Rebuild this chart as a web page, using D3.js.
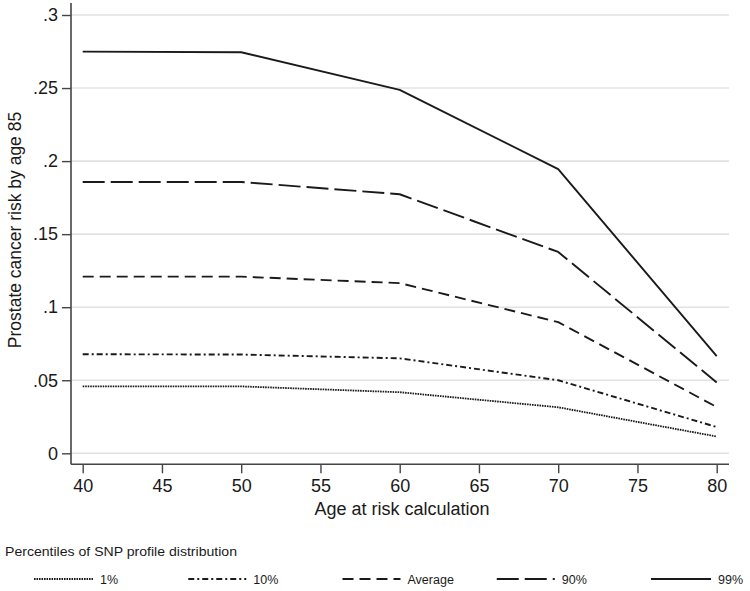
<!DOCTYPE html>
<html>
<head>
<meta charset="utf-8">
<script src="https://cdn.jsdelivr.net/npm/d3@7"></script>
<style>
  html, body { margin: 0; padding: 0; background: #fff; }
  svg { display: block; }
  text { font-family: "Liberation Sans", Arial, sans-serif; fill: #1a1a1a; }
</style>
</head>
<body>
<svg id="chart" width="750" height="591"></svg>
<script>
// ---- data ----
const ages = [40, 50, 60, 70, 80];
const p1 = [0.0458, 0.0458, 0.0418, 0.0315, 0.0115];
const p10 = [0.0678, 0.0676, 0.0650, 0.0500, 0.0180];
const pAvg = [0.1209, 0.1209, 0.1165, 0.0898, 0.0317];
const p90 = [0.1857, 0.1857, 0.1773, 0.1378, 0.0485];
const p99 = [0.2749, 0.2745, 0.2487, 0.1945, 0.0665];
const seriesNames = ["1%", "10%", "Average", "90%", "99%"];
const xTicks = [40, 45, 50, 55, 60, 65, 70, 75, 80];
const yTicks = [0, 0.05, 0.1, 0.15, 0.2, 0.25, 0.3];
const yTickLabels = ["0", ".05", ".1", ".15", ".2", ".25", ".3"];

const seriesValues = [p1, p10, pAvg, p90, p99];
const dashes = ["1.6,0.9", "6,3,2,3", "11,6", "22,6", "none"];

const svg = d3.select("#chart");
const x = d3.scaleLinear().domain([40, 80]).range([82.7, 716.7]);
const y = d3.scaleLinear().domain([0, 0.3]).range([453.3, 15]);
const plotLeft = 71, plotRight = 729, plotBottom = 464.3, plotTop = 3;

// gridlines
svg.append("g").selectAll("line").data(yTicks).join("line")
  .attr("x1", plotLeft).attr("x2", plotRight)
  .attr("y1", d => y(d)).attr("y2", d => y(d))
  .attr("stroke", "#e2e2e2").attr("stroke-width", 1.6);

// y axis
const yAxis = d3.axisLeft(y).tickValues(yTicks)
  .tickFormat((d, i) => yTickLabels[i]).tickSize(9).tickPadding(4);
const gy = svg.append("g").attr("transform", `translate(${plotLeft},0)`).call(yAxis);
gy.select(".domain").attr("d", `M0,${plotTop}V${plotBottom}`).attr("stroke", "#444").attr("stroke-width", 1.6);
gy.selectAll(".tick line").attr("stroke", "#444").attr("stroke-width", 1.4);
gy.selectAll(".tick text").attr("font-size", 18).attr("font-family", "Liberation Sans, Arial, sans-serif").attr("fill", "#1a1a1a");

// x axis
const xAxis = d3.axisBottom(x).tickValues(xTicks).tickSize(9).tickPadding(6);
const gx = svg.append("g").attr("transform", `translate(0,${plotBottom})`).call(xAxis);
gx.select(".domain").attr("d", `M${plotLeft},0H${plotRight}`).attr("stroke", "#444").attr("stroke-width", 1.6);
gx.selectAll(".tick line").attr("stroke", "#444").attr("stroke-width", 1.4);
gx.selectAll(".tick text").attr("font-size", 18).attr("font-family", "Liberation Sans, Arial, sans-serif").attr("fill", "#1a1a1a");

// axis titles
svg.append("text").attr("x", 402).attr("y", 515).attr("text-anchor", "middle")
  .attr("font-size", 18).text("Age at risk calculation");
svg.append("text").attr("transform", "translate(21,230) rotate(-90)").attr("text-anchor", "middle")
  .attr("font-size", 17.5).text("Prostate cancer risk by age 85");

// lines
const line = d3.line().x((d, i) => x(ages[i])).y(d => y(d));
svg.append("g").selectAll("path").data(seriesValues).join("path")
  .attr("d", d => line(d))
  .attr("fill", "none").attr("stroke", "#1a1a1a")
  .attr("stroke-width", (d, i) => i === 0 ? 1.8 : 1.9)
  .attr("stroke-dasharray", (d, i) => dashes[i])
  .attr("stroke-linejoin", "round");

// legend
svg.append("text").attr("x", 5).attr("y", 556).attr("font-size", 12.5)
  .attr("textLength", 232).attr("lengthAdjust", "spacingAndGlyphs")
  .text("Percentiles of SNP profile distribution");
const legX = d3.scalePoint().domain(seriesNames).range([34, 651]);
const legW = [59, 58, 58, 58, 60];
const lg = svg.append("g").selectAll("g").data(seriesNames).join("g")
  .attr("transform", d => `translate(${legX(d)},579)`);
lg.append("line").attr("x1", 0).attr("x2", (d, i) => legW[i]).attr("y1", 0).attr("y2", 0)
  .attr("stroke", "#1a1a1a").attr("stroke-width", 1.9)
  .attr("stroke-dasharray", (d, i) => dashes[i]);
lg.append("text").attr("x", (d, i) => legW[i] + 7).attr("y", 5).attr("font-size", 12.5)
  .text(d => d);
</script>
</body>
</html>
